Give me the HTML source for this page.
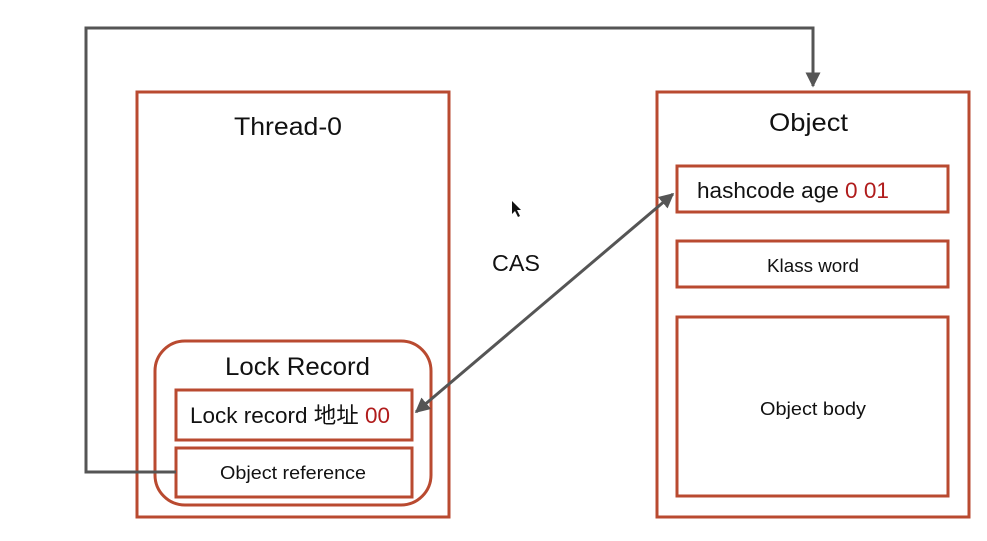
<!DOCTYPE html>
<html><head><meta charset="utf-8"><style>
html,body{margin:0;padding:0;background:#fff;}
svg{display:block;font-family:"Liberation Sans","Noto Sans CJK SC",sans-serif;}
</style></head><body>
<svg width="987" height="541" viewBox="0 0 987 541" xmlns="http://www.w3.org/2000/svg">
<defs>
<marker id="ah" viewBox="0 0 10 10" refX="9" refY="5" markerWidth="5" markerHeight="5" orient="auto-start-reverse">
<path d="M0,0 L10,5 L0,10 z" fill="#555"/>
</marker>
</defs>
<g fill="none" stroke="#b94a30" stroke-width="3">
<rect x="137" y="92" width="312" height="425"/>
<rect x="657" y="92" width="312" height="425"/>
<rect x="155" y="341" width="276" height="164" rx="30"/>
<rect x="176" y="390" width="236" height="50"/>
<rect x="176" y="448" width="236" height="49"/>
<rect x="677" y="166" width="271" height="46"/>
<rect x="677" y="241" width="271" height="46"/>
<rect x="677" y="317" width="271" height="179"/>
</g>
<g fill="none" stroke="#555" stroke-width="3">
<polyline points="176,472 86,472 86,28 813,28 813,86" marker-end="url(#ah)"/>
<line x1="416" y1="412" x2="673" y2="194" marker-start="url(#ah)" marker-end="url(#ah)"/>
</g>
<path d="M512,201 L512,214 L515,211 L518,217 L520,216 L517,210 L521,210 Z" fill="#111"/>
<g fill="#111">
<text x="234" y="135" font-size="25" textLength="108" lengthAdjust="spacingAndGlyphs">Thread-0</text>
<text x="769" y="131" font-size="25" textLength="79" lengthAdjust="spacingAndGlyphs">Object</text>
<text x="492" y="271" font-size="23" textLength="48" lengthAdjust="spacingAndGlyphs">CAS</text>
<text x="225" y="375" font-size="25" textLength="145" lengthAdjust="spacingAndGlyphs">Lock Record</text>
<text x="220" y="479" font-size="18" textLength="146" lengthAdjust="spacingAndGlyphs">Object reference</text>
<text x="767" y="272" font-size="18" textLength="92" lengthAdjust="spacingAndGlyphs">Klass word</text>
<text x="760" y="415" font-size="18" textLength="106" lengthAdjust="spacingAndGlyphs">Object body</text>
<text x="190" y="423" font-size="22" textLength="200" lengthAdjust="spacingAndGlyphs">Lock record 地址 <tspan fill="#b01c1c">00</tspan></text>
<text x="697" y="198" font-size="22" textLength="192" lengthAdjust="spacingAndGlyphs">hashcode age <tspan fill="#b01c1c">0 01</tspan></text>
</g>
</svg>
</body></html>
